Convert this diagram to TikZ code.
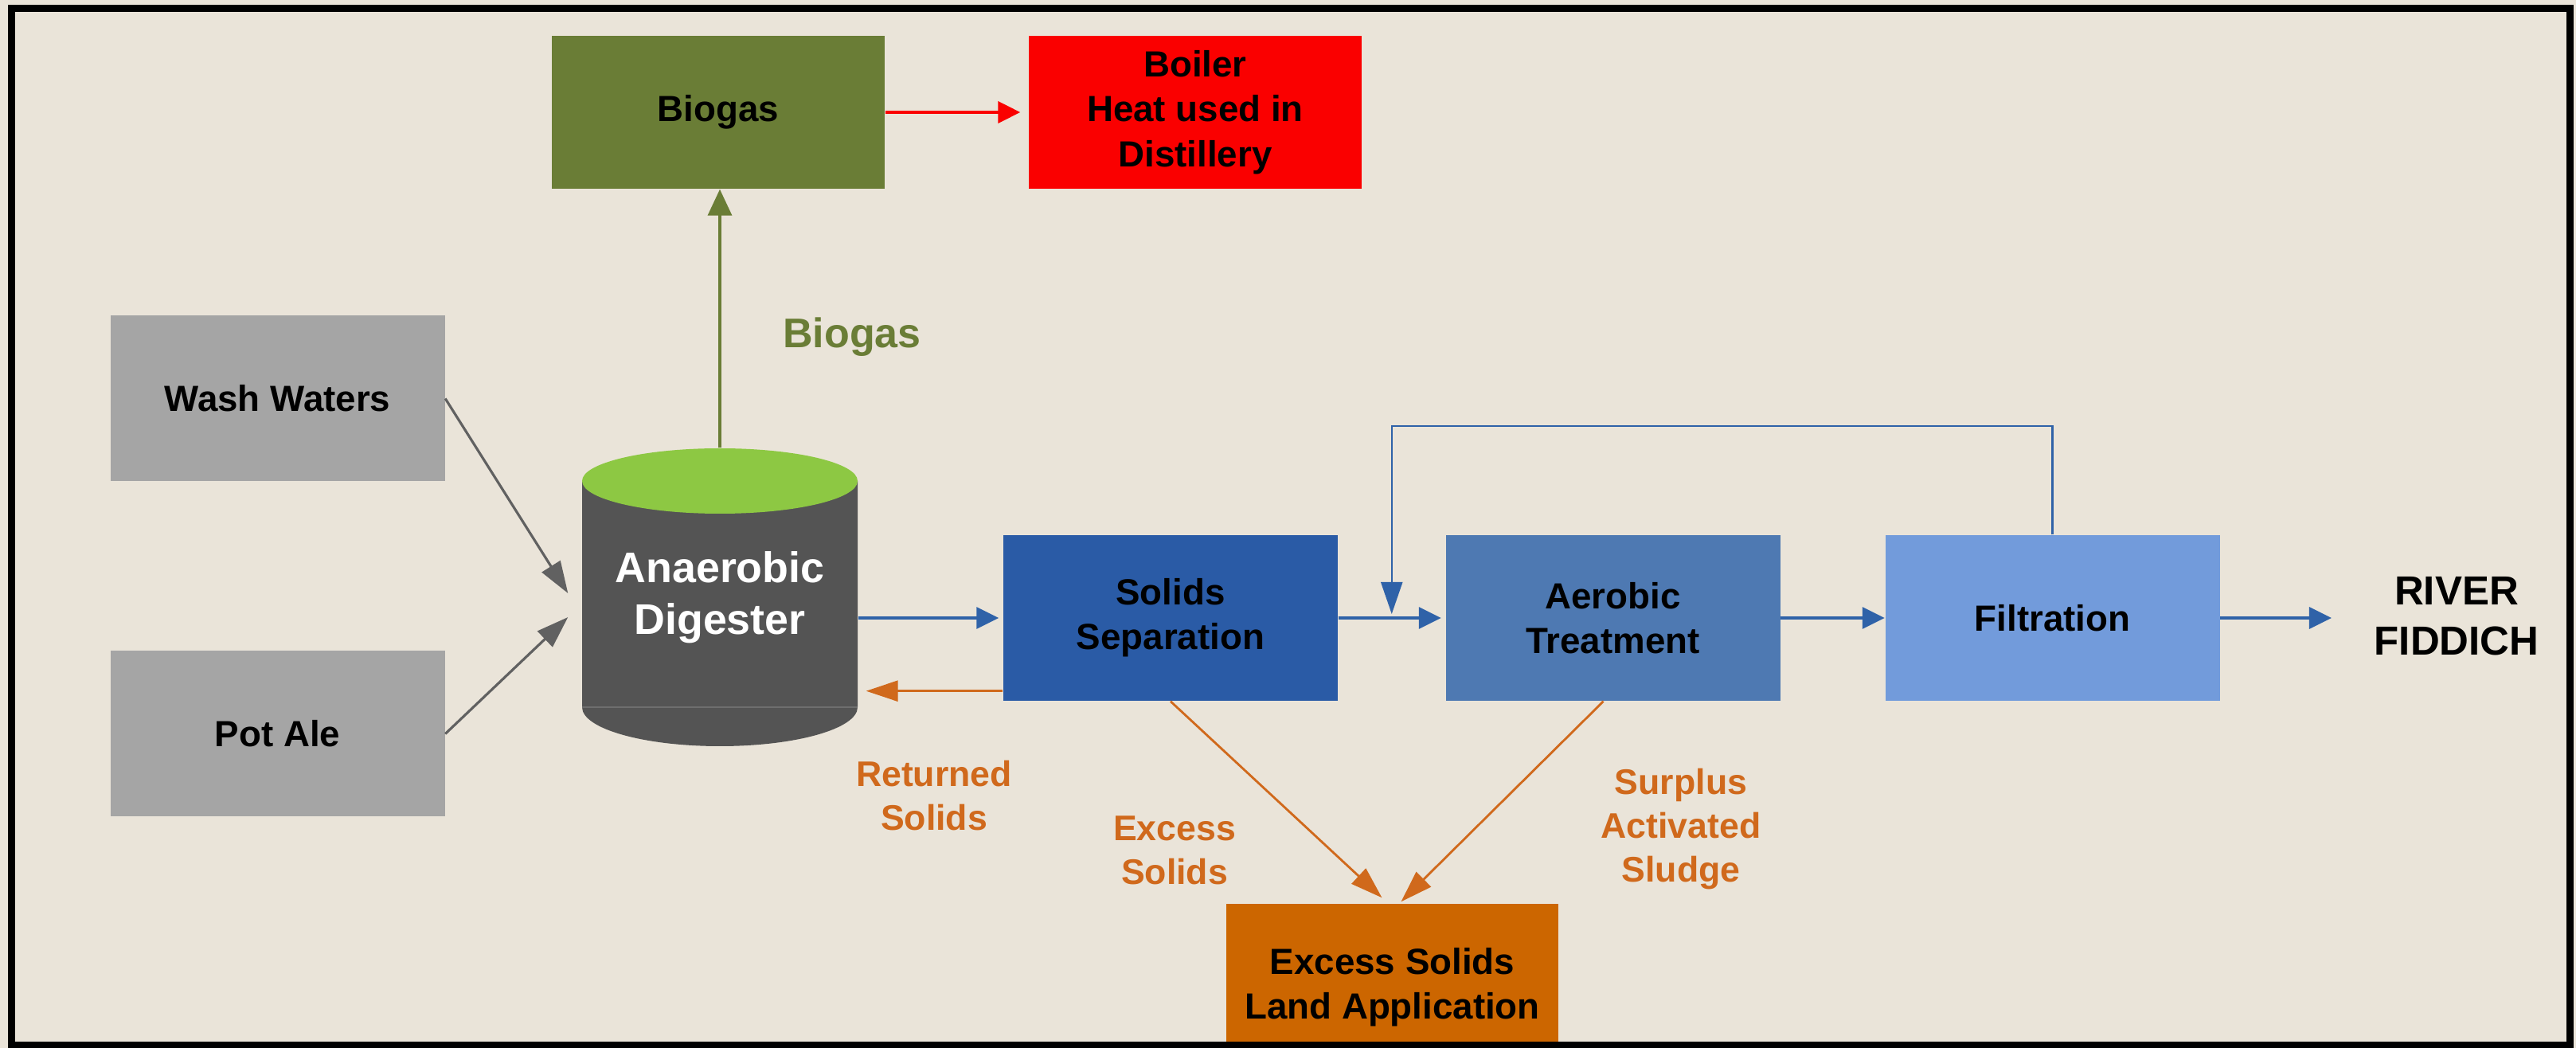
\documentclass[tikz,border=0pt]{standalone}
\usepackage{fontspec}
\setmainfont{Liberation Sans}
\usetikzlibrary{arrows.meta, positioning, calc}

\begin{document}
\begin{tikzpicture}[
    every node/.style={font=\bfseries},
]

% ---------------------------------------------------------------- colours
\definecolor{paper}{HTML}{EAE4D9}      % the card behind everything
\definecolor{feedgray}{HTML}{A5A5A5}   % the two inputs
\definecolor{gasgreen}{HTML}{6A7D36}   % biogas box and its arrow
\definecolor{boilerred}{HTML}{FA0000}
\definecolor{tankgray}{HTML}{545454}
\definecolor{tanktop}{HTML}{8DC843}
\definecolor{sepblue}{HTML}{2A5BA6}
\definecolor{aerblue}{HTML}{4E79B2}
\definecolor{filtblue}{HTML}{729BDB}
\definecolor{landorange}{HTML}{CC6600}
\definecolor{lineblue}{HTML}{2F62A8}   % the water path
\definecolor{lineorange}{HTML}{D0691C} % the solids path
\definecolor{linegray}{HTML}{616161}

% ================================================================
% Geometry (1 unit = 1cm, origin bottom left, card 32.35 x 13.16)
%
%   main row of boxes centred on y = 5.40, each about 4.2 x 2.08
%   digester: cylinder x in [7.31, 10.77], top 7.53, bottom 3.79
%   feedback runs at y = 7.84, from filtration back into the gap
%   between separation and aerobic treatment
%   land application box is cut off by the bottom of the frame
% ================================================================

\tikzset{
    box/.style={
        rectangle, inner sep=0pt, align=center, text=black,
        minimum width=4.2cm, minimum height=2.08cm,
        font=\fontsize{13}{16}\selectfont\bfseries,
    },
    tank/.style={
        rectangle, inner sep=0pt, align=center, text=white,
        minimum width=3.46cm, minimum height=3.74cm,
        font=\fontsize{15.3}{18.5}\selectfont\bfseries,
    },
    note/.style={align=center, text=lineorange, inner sep=0pt,
        font=\fontsize{12.7}{15.7}\selectfont\bfseries},
    gaslabel/.style={text=gasgreen, inner sep=0pt,
        font=\fontsize{14.8}{18}\selectfont\bfseries},
    riverlabel/.style={align=center, text=black, inner sep=0pt,
        font=\fontsize{14.5}{18}\selectfont\bfseries},
    flow/.style={draw=lineblue, line width=0.9pt,
        -{Triangle[length=2.8mm, width=2.7mm]}},
    recycle/.style={draw=lineblue, line width=0.6pt,
        -{Triangle[length=4mm, width=2.7mm]}},
    feed/.style={draw=linegray, line width=0.9pt,
        -{Triangle[length=4mm, width=2.7mm]}},
    gas/.style={draw=gasgreen, line width=1pt,
        -{Triangle[length=3.3mm, width=3mm]}},
    heat/.style={draw=boilerred, line width=1.2pt,
        -{Triangle[length=2.8mm, width=2.7mm]}},
    solids/.style={draw=lineorange, line width=0.8pt,
        -{Triangle[length=4mm, width=2.6mm]}},
}

% ---------------------------------------------------------------- the card
\fill[paper] (0,0) rectangle (32.35,13.16);
\useasboundingbox (0,0) rectangle (32.35,13.16);

% ---------------------------------------------------------------- the boxes
\node[box, fill=feedgray] (wash) at (3.485, 8.155) {Wash Waters};
\node[box, fill=feedgray] (potale) at (3.485, 3.945) {Pot Ale};

\node[box, fill=gasgreen, minimum width=4.18cm, minimum height=1.92cm]
    (biogas) at (9.02, 11.75) {Biogas};
\node[box, fill=boilerred, minimum width=4.18cm, minimum height=1.92cm]
    (boiler) at (15.01, 11.75) {Boiler\\Heat used in\\Distillery};

\node[box, fill=sepblue] (sep) at (14.70, 5.40) {Solids\\Separation};
\node[box, fill=aerblue] (aer) at (20.255, 5.40) {Aerobic\\Treatment};
\node[box, fill=filtblue] (filt) at (25.775, 5.40) {Filtration};
\node[box, fill=landorange, minimum width=4.17cm, minimum height=2.09cm]
    (land) at (17.485, 0.765) {Excess Solids\\Land Application};

\node[riverlabel] (river) at (30.85, 5.42) {RIVER\\FIDDICH};

% ---------------------------------------------------------------- the digester
\fill[tankgray] (7.31,7.12) -- (7.31,4.28)
    arc[start angle=180, end angle=360, x radius=1.73, y radius=0.49]
    -- (10.77,7.12) -- cycle;
\draw[tankgray!85!white, line width=0.5pt] (7.31,4.28) -- (10.77,4.28);
\fill[tanktop] (9.04,7.12) ellipse[x radius=1.73, y radius=0.41];
\node[tank] (dig) at (9.04,5.66) {Anaerobic\\Digester};

% ---------------------------------------------------------------- inputs and gas
\draw[feed] (wash.east) -- ([xshift=-1.7mm, yshift=0.5mm]dig.west);
\draw[feed] (potale.east) -- ([xshift=-1.7mm, yshift=-2.5mm]dig.west);

\draw[gas] (dig.north) -- (dig.north |- biogas.south);
\draw[heat] (biogas.east) -- ([xshift=-1mm]boiler.west);

% ---------------------------------------------------------------- the water path
\draw[flow] (dig.east |- sep.west) -- ([xshift=-0.5mm]sep.west);
\draw[flow] (sep.east) -- ([xshift=-0.5mm]aer.west);
\draw[flow] (aer.east) -- (filt.west);
\draw[flow, shorten >=5.3mm] (filt.east) -- (filt.east -| river.west);

\coordinate (merge) at ($(sep.east)!0.5!(aer.west)$);
\draw[recycle] (filt.north) -- ++(0,1.36) -| ([yshift=0.5mm]merge);

% ---------------------------------------------------------------- the solids path
\draw[solids] ($(sep.south west)+(0,0.13)$)
    -- ($(sep.south west -| dig.east)+(0.1,0.13)$);
\draw[solids] (sep.south) -- ([xshift=-1.3mm, yshift=0.7mm]land.north);
\draw[solids] ([xshift=-1.2mm]aer.south) -- ([xshift=1.1mm, yshift=0.2mm]land.north);

% ---------------------------------------------------------------- labels
\node[gaslabel] (gasnote) at (10.70, 8.93) {Biogas};
\node[note] (retnote) at (11.73, 3.17) {Returned\\Solids};
\node[note] (exnote) at (14.75, 2.48) {Excess\\Solids};
\node[note] (sasnote) at (21.11, 2.75) {Surplus\\Activated\\Sludge};

% ---------------------------------------------------------------- the frame
\draw[black, line width=2.6pt] (0.145,0.03) rectangle (32.275,13.055);

\end{tikzpicture}
\end{document}
